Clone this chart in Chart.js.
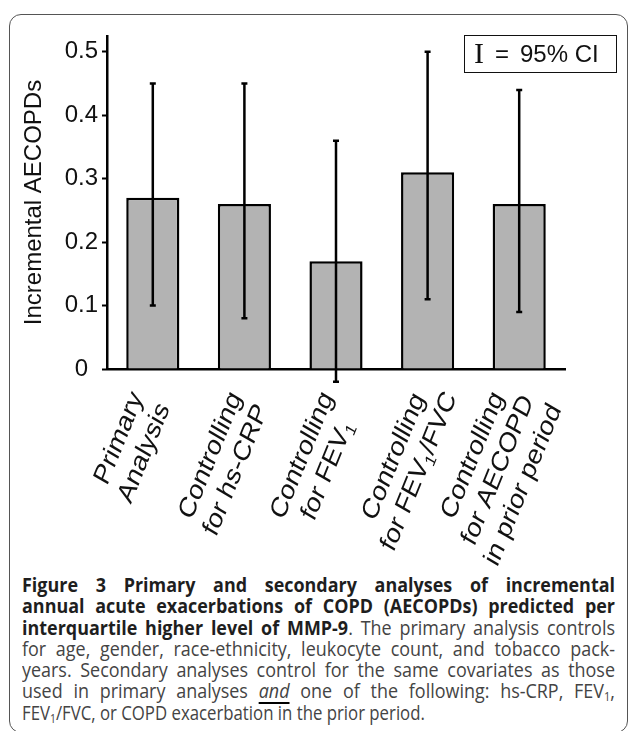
<!DOCTYPE html>
<html>
<head>
<meta charset="utf-8">
<script src="https://cdn.jsdelivr.net/npm/chart.js@4.4.0/dist/chart.umd.min.js"></script>
<style>
  html, body { margin: 0; padding: 0; background: #fff; }
  body { width: 630px; height: 731px; position: relative; overflow: hidden; font-family: "Liberation Sans", Arial, sans-serif; }
  .frame { position: absolute; left: 9px; top: 14px; width: 619px; height: 719px; border: 1.5px solid #555; border-radius: 12px; box-sizing: border-box; }
  .chart-box { position: absolute; left: 0; top: 0; width: 630px; height: 570px; }
  .ci-key { position: absolute; left: 464px; top: 35px; width: 153px; height: 38px; border: 1.5px solid #111; box-sizing: border-box; color: #111; }
  .ci-key span { position: absolute; top: 0; line-height: 36px; white-space: nowrap; }
  .ci-key .bar { left: 9px; font-family: "Liberation Serif", serif; font-size: 30px; line-height: 38px; top: -2px; }
  .ci-key .eq { left: 30px; font-size: 24px; }
  .ci-key .txt { left: 55px; font-size: 24px; }
  .caption { position: absolute; left: 22px; top: 574px; width: 593px; font-family: "Open Sans", sans-serif; font-size: 19.5px; line-height: 21.3px; color: #444; }
  .caption div { text-align: justify; text-align-last: justify; height: 21.3px; white-space: nowrap; transform-origin: 0 0; }
  .caption div.last { text-align-last: left; }
  .caption b { color: #1e1e1e; }
  .caption sub { font-size: 12px; line-height: 0; vertical-align: -3px; }
  .caption u { text-decoration-thickness: 2px; text-underline-offset: 4px; text-decoration-color: #000; }
</style>
</head>
<body>
<div class="frame"></div>
<div class="chart-box"><canvas id="aecopdChart"></canvas></div>
<div class="ci-key"><span class="bar">I</span><span class="eq">=</span><span class="txt">95% CI</span></div>
<div class="caption">
  <div><span><b>Figure 3 Primary and secondary analyses of incremental</b></span></div>
  <div><span><b>annual acute exacerbations of COPD (AECOPDs) predicted per</b></span></div>
  <div><span><b>interquartile higher level of MMP-9</b>. The primary analysis controls</span></div>
  <div><span>for age, gender, race-ethnicity, leukocyte count, and tobacco pack-</span></div>
  <div><span>years. Secondary analyses control for the same covariates as those</span></div>
  <div><span>used in primary analyses <u><i>and</i></u> one of the following: hs-CRP, FEV<sub>1</sub>,</span></div>
  <div class="last"><span>FEV<sub>1</sub>/FVC, or COPD exacerbation in the prior period.</span></div>
</div>
<script>
// ==========================
// Data
// ==========================

// "_1" marks a subscript 1
const categories = [
    ["Primary", "Analysis"],
    ["Controlling", "for hs-CRP"],
    ["Controlling", "for FEV_1"],
    ["Controlling", "for FEV_1/FVC"],
    ["Controlling", "for AECOPD", "in prior period"]
];

const estimates = [0.27, 0.26, 0.17, 0.31, 0.26];
const ciLower = [0.10, 0.08, -0.02, 0.11, 0.09];
const ciUpper = [0.45, 0.45, 0.36, 0.50, 0.44];

const yTicks = [0, 0.1, 0.2, 0.3, 0.4, 0.5];
const yTickLabels = ["0", "0.1", "0.2", "0.3", "0.4", "0.5"];

// ==========================
// Helpers
// ==========================

const FONT = "'Liberation Sans', Arial, sans-serif";
const LABEL_SIZE = 24;
const SUB_SIZE = 15;
const LABEL_LINE = 28;
const LABEL_ANGLE = -64 * Math.PI / 180;
const LABEL_STRETCH = 1.2;   // labels look stretched vertically in the figure

function segments(text) {
    return text.split(/(_\d)/).filter(s => s !== "").map(s =>
        s.startsWith("_") ? { t: s.slice(1), sub: true } : { t: s, sub: false });
}

function richWidth(ctx, text) {
    let w = 0;
    segments(text).forEach(seg => {
        ctx.font = (seg.sub ? SUB_SIZE : LABEL_SIZE) + "px " + FONT;
        w += ctx.measureText(seg.t).width;
    });
    return w;
}

function drawRich(ctx, text, cx, y) {
    let x = cx - richWidth(ctx, text) / 2;
    segments(text).forEach(seg => {
        ctx.font = (seg.sub ? SUB_SIZE : LABEL_SIZE) + "px " + FONT;
        ctx.fillText(seg.t, x, seg.sub ? y + 7 : y);
        x += ctx.measureText(seg.t).width;
    });
}

// ==========================
// Plugins
// ==========================

const errorBars = {
    id: "errorBars",
    afterDatasetsDraw(chart) {
        const { ctx, scales: { x, y } } = chart;
        ctx.save();
        ctx.strokeStyle = "#000";
        ctx.lineWidth = 2.5;
        estimates.forEach((v, i) => {
            const px = x.getPixelForValue(i);
            const lo = y.getPixelForValue(ciLower[i]);
            const hi = y.getPixelForValue(ciUpper[i]);
            ctx.beginPath();
            ctx.moveTo(px, lo);
            ctx.lineTo(px, hi);
            ctx.moveTo(px - 3, lo);
            ctx.lineTo(px + 3, lo);
            ctx.moveTo(px - 3, hi);
            ctx.lineTo(px + 3, hi);
            ctx.stroke();
        });
        ctx.restore();
    }
};

const slantedLabels = {
    id: "slantedLabels",
    afterDraw(chart) {
        const { ctx, scales: { x } } = chart;
        const sin = Math.sin(LABEL_ANGLE);
        const cos = Math.cos(LABEL_ANGLE);
        ctx.save();
        ctx.fillStyle = "#111";
        ctx.textAlign = "left";
        ctx.textBaseline = "middle";
        categories.forEach((lines, i) => {
            const n = lines.length;
            const widths = lines.map(l => richWidth(ctx, l));
            // highest point of the rotated block, relative to its centre
            let minY = Infinity;
            lines.forEach((l, j) => {
                const b = (j - (n - 1) / 2) * LABEL_LINE - 9;
                minY = Math.min(minY, (widths[j] / 2) * sin + b * cos);
            });
            const cx = x.getPixelForValue(i) - 21;
            const cy = x.top + 20 - minY * LABEL_STRETCH;
            ctx.save();
            ctx.translate(cx, cy);
            ctx.scale(1, LABEL_STRETCH);
            ctx.rotate(LABEL_ANGLE);
            lines.forEach((l, j) => {
                drawRich(ctx, l, 0, (j - (n - 1) / 2) * LABEL_LINE);
            });
            ctx.restore();
        });
        ctx.restore();
    }
};

// ==========================
// Chart
// ==========================

Chart.defaults.font.family = FONT;
Chart.defaults.color = "#111";

new Chart(document.getElementById("aecopdChart"), {
    type: "bar",
    data: {
        labels: categories.map(l => l.join(" ").replace(/_/g, "")),
        datasets: [{
            data: estimates,
            backgroundColor: "#b3b3b3",
            borderColor: "#000",
            borderWidth: 2.5,
            borderSkipped: "bottom",
            categoryPercentage: 1,
            barPercentage: 0.58
        }]
    },
    options: {
        responsive: true,
        maintainAspectRatio: false,
        animation: false,
        layout: { padding: { top: 36, right: 65, left: 0, bottom: 0 } },
        plugins: {
            legend: { display: false },
            tooltip: { enabled: false }
        },
        scales: {
            x: {
                z: 1,
                offset: true,
                grid: { display: false },
                border: { color: "#000", width: 2.5 },
                ticks: { display: false },
                afterFit(scale) { scale.height = 201; }
            },
            y: {
                min: 0,
                max: 0.525,
                afterBuildTicks(scale) { scale.ticks = yTicks.map(v => ({ value: v })); },
                afterFit(scale) { scale.width = 107; },
                grid: { drawOnChartArea: false, tickLength: 5, tickColor: "#000", tickWidth: 2 },
                border: { color: "#000", width: 2.5 },
                ticks: {
                    crossAlign: "center",
                    padding: 4,
                    font: { size: 24 },
                    color: "#111",
                    callback: (v, i) => yTickLabels[i]
                },
                title: {
                    display: true,
                    text: "Incremental AECOPDs",
                    font: { size: 24 },
                    color: "#111",
                    padding: { top: 20, bottom: 0 }
                }
            }
        }
    },
    plugins: [errorBars, slantedLabels]
});

// ==========================
// Caption: condensed face, each line squeezed to fit
// ==========================

const CAPTION_WIDTH = 593;

document.querySelectorAll(".caption div").forEach(line => {
    const isLast = line.classList.contains("last");
    line.style.textAlign = "left";
    line.style.textAlignLast = "left";
    const natural = line.querySelector("span").getBoundingClientRect().width;
    line.style.textAlign = "";
    line.style.textAlignLast = "";
    const s = isLast ? 0.86 : Math.min(0.92, 0.96 * CAPTION_WIDTH / natural);
    line.style.width = (CAPTION_WIDTH / s) + "px";
    line.style.transform = "scaleX(" + s + ")";
});
</script>
</body>
</html>
